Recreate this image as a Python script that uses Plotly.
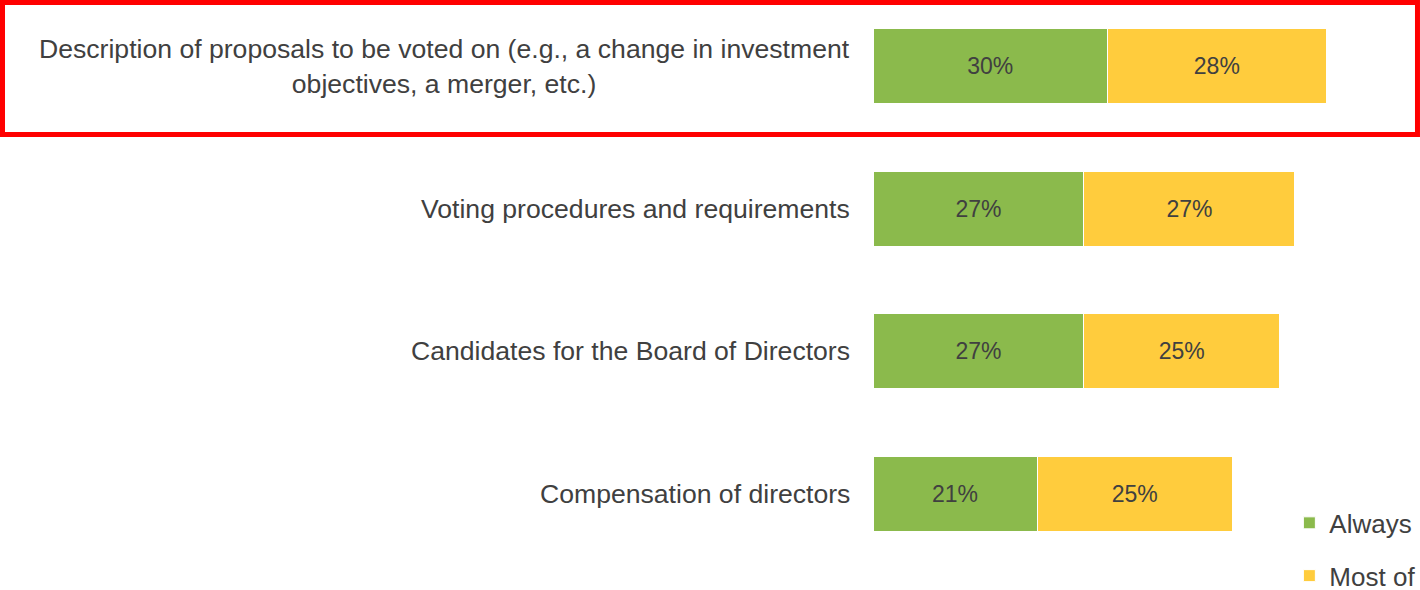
import plotly.graph_objects as go

# data
categories = [
    "Description of proposals to be voted on (e.g., a change in investment<br>objectives, a merger, etc.)",
    "Voting procedures and requirements",
    "Candidates for the Board of Directors",
    "Compensation of directors",
]
always = [30, 27, 27, 21]
most_of_time = [28, 27, 25, 25]
series_names = ["Always", "Most of the time"]

GREEN = "#8BBA4C"
YELLOW = "#FFCC3D"
TEXT = "#404040"
FONT = "Liberation Sans, Arial, sans-serif"

fig = go.Figure()
for name, vals, col, grp in [(series_names[0], always, GREEN, "a"),
                             (series_names[1], most_of_time, YELLOW, "b")]:
    fig.add_trace(go.Bar(
        y=categories, x=vals, name=name, orientation="h",
        marker=dict(color=col, line=dict(color="white", width=1)),
        text=[f"{v}%" for v in vals], textposition="inside",
        insidetextanchor="middle",
        textfont=dict(size=23, color=TEXT, family=FONT),
        legendgroup=grp, width=0.525,
    ))

# category labels drawn as annotations so wrapped text is centered
for c in categories:
    fig.add_annotation(
        x=0, xref="paper", y=c, yref="y", text=c, showarrow=False,
        xanchor="right", xshift=-21, align="center",
        font=dict(size=26.6, color=TEXT, family=FONT),
    )

# red highlight frame around the first row
fig.add_shape(type="rect", xref="paper", yref="paper",
              x0=-1.5914, x1=0.9954, y0=0.772, y1=0.9958,
              line=dict(color="#FF0000", width=5))

fig.update_layout(
    barmode="stack",
    width=1420, height=590,
    margin=dict(l=873, r=0, t=0, b=0, autoexpand=False),
    paper_bgcolor="white", plot_bgcolor="white",
    font=dict(family=FONT, color=TEXT),
    showlegend=True,
    legend=dict(xref="container", yref="container",
                x=0.908, xanchor="left", y=0.1535, yanchor="top",
                bgcolor="rgba(0,0,0,0)", font=dict(size=26, color=TEXT, family=FONT),
                tracegroupgap=16, traceorder="grouped"),
    xaxis=dict(range=[0, 70], visible=False),
    yaxis=dict(range=[3.673, -0.463], showticklabels=False, showgrid=False,
               zeroline=False, showline=False, ticks=""),
)

# drop the default page margin so the figure sits at the window corner
fig.write_html("out.html", config={"displayModeBar": False},
               post_script="document.body.style.margin='0';")
